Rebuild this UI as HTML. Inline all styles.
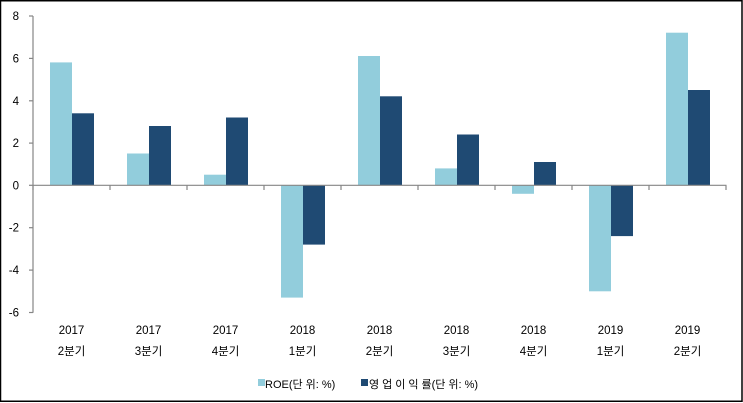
<!DOCTYPE html>
<html><head><meta charset="utf-8"><style>
html,body{margin:0;padding:0;background:#fff;}
svg{display:block;}
text{font-family:"Liberation Sans","Noto Sans CJK KR",sans-serif;fill:#000;}
.k{letter-spacing:3px;}
</style></head><body>
<svg width="743" height="403" viewBox="0 0 743 403" xmlns="http://www.w3.org/2000/svg">
<rect x="0" y="0" width="743" height="403" fill="#fff"/>
<rect x="0.5" y="0.75" width="741.5" height="400.5" fill="none" stroke="#000" stroke-width="1.5"/>
<g id="bars">
<rect x="50" y="62.4" width="22" height="122.9" fill="#92CDDC"/>
<rect x="72" y="113.3" width="22" height="72" fill="#1F4A73"/>
<rect x="127" y="153.5" width="22" height="31.8" fill="#92CDDC"/>
<rect x="149" y="126" width="22" height="59.3" fill="#1F4A73"/>
<rect x="204" y="174.7" width="22" height="10.6" fill="#92CDDC"/>
<rect x="226" y="117.5" width="22" height="67.8" fill="#1F4A73"/>
<rect x="281" y="185.3" width="22" height="112.3" fill="#92CDDC"/>
<rect x="303" y="185.3" width="22" height="59.3" fill="#1F4A73"/>
<rect x="358" y="56" width="22" height="129.3" fill="#92CDDC"/>
<rect x="380" y="96.3" width="22" height="89" fill="#1F4A73"/>
<rect x="435" y="168.4" width="22" height="16.9" fill="#92CDDC"/>
<rect x="457" y="134.5" width="22" height="50.8" fill="#1F4A73"/>
<rect x="512" y="185.3" width="22" height="8.5" fill="#92CDDC"/>
<rect x="534" y="162" width="22" height="23.3" fill="#1F4A73"/>
<rect x="589" y="185.3" width="22" height="106" fill="#92CDDC"/>
<rect x="611" y="185.3" width="22" height="50.8" fill="#1F4A73"/>
<rect x="666" y="32.7" width="22" height="152.6" fill="#92CDDC"/>
<rect x="688" y="90" width="22" height="95.3" fill="#1F4A73"/>
</g>
<g stroke="#868686" stroke-width="1.2" fill="none">
<line x1="33" y1="16" x2="33" y2="312.7"/>
<line x1="29" y1="16" x2="33" y2="16"/>
<line x1="29" y1="58.4" x2="33" y2="58.4"/>
<line x1="29" y1="100.8" x2="33" y2="100.8"/>
<line x1="29" y1="143.1" x2="33" y2="143.1"/>
<line x1="29" y1="185.3" x2="33" y2="185.3"/>
<line x1="29" y1="227.7" x2="33" y2="227.7"/>
<line x1="29" y1="270.1" x2="33" y2="270.1"/>
<line x1="29" y1="312.5" x2="33" y2="312.5"/>
<line x1="33" y1="185.3" x2="726.5" y2="185.3"/>
<line x1="33" y1="185.3" x2="33" y2="190"/>
<line x1="110" y1="185.3" x2="110" y2="190"/>
<line x1="187" y1="185.3" x2="187" y2="190"/>
<line x1="264" y1="185.3" x2="264" y2="190"/>
<line x1="341" y1="185.3" x2="341" y2="190"/>
<line x1="418" y1="185.3" x2="418" y2="190"/>
<line x1="495" y1="185.3" x2="495" y2="190"/>
<line x1="572" y1="185.3" x2="572" y2="190"/>
<line x1="649" y1="185.3" x2="649" y2="190"/>
<line x1="726" y1="185.3" x2="726" y2="190"/>
</g>
<g font-size="11.5" text-anchor="end">
<text x="19" y="20">8</text>
<text x="19" y="62.4">6</text>
<text x="19" y="104.8">4</text>
<text x="19" y="147.1">2</text>
<text x="19" y="189.3">0</text>
<text x="19" y="231.7">-2</text>
<text x="19" y="274.1">-4</text>
<text x="19" y="316.5">-6</text>
</g>
<g font-size="11.5" text-anchor="middle">
<text x="71.5" y="334">2017</text><text x="71.5" y="355">2분기</text>
<text x="148.5" y="334">2017</text><text x="148.5" y="355">3분기</text>
<text x="225.5" y="334">2017</text><text x="225.5" y="355">4분기</text>
<text x="302.5" y="334">2018</text><text x="302.5" y="355">1분기</text>
<text x="379.5" y="334">2018</text><text x="379.5" y="355">2분기</text>
<text x="456.5" y="334">2018</text><text x="456.5" y="355">3분기</text>
<text x="533.5" y="334">2018</text><text x="533.5" y="355">4분기</text>
<text x="610.5" y="334">2019</text><text x="610.5" y="355">1분기</text>
<text x="687.5" y="334">2019</text><text x="687.5" y="355">2분기</text>
</g>
<rect x="258" y="379" width="7" height="7" fill="#92CDDC"/>
<text x="265" y="388" font-size="11">ROE(<tspan class="k">단</tspan>위: %)</text>
<rect x="361" y="379" width="7" height="7" fill="#1F4A73"/>
<text x="369" y="388" font-size="11"><tspan class="k">영업이익</tspan>률(<tspan class="k">단</tspan>위: %)</text>
</svg>
</body></html>
